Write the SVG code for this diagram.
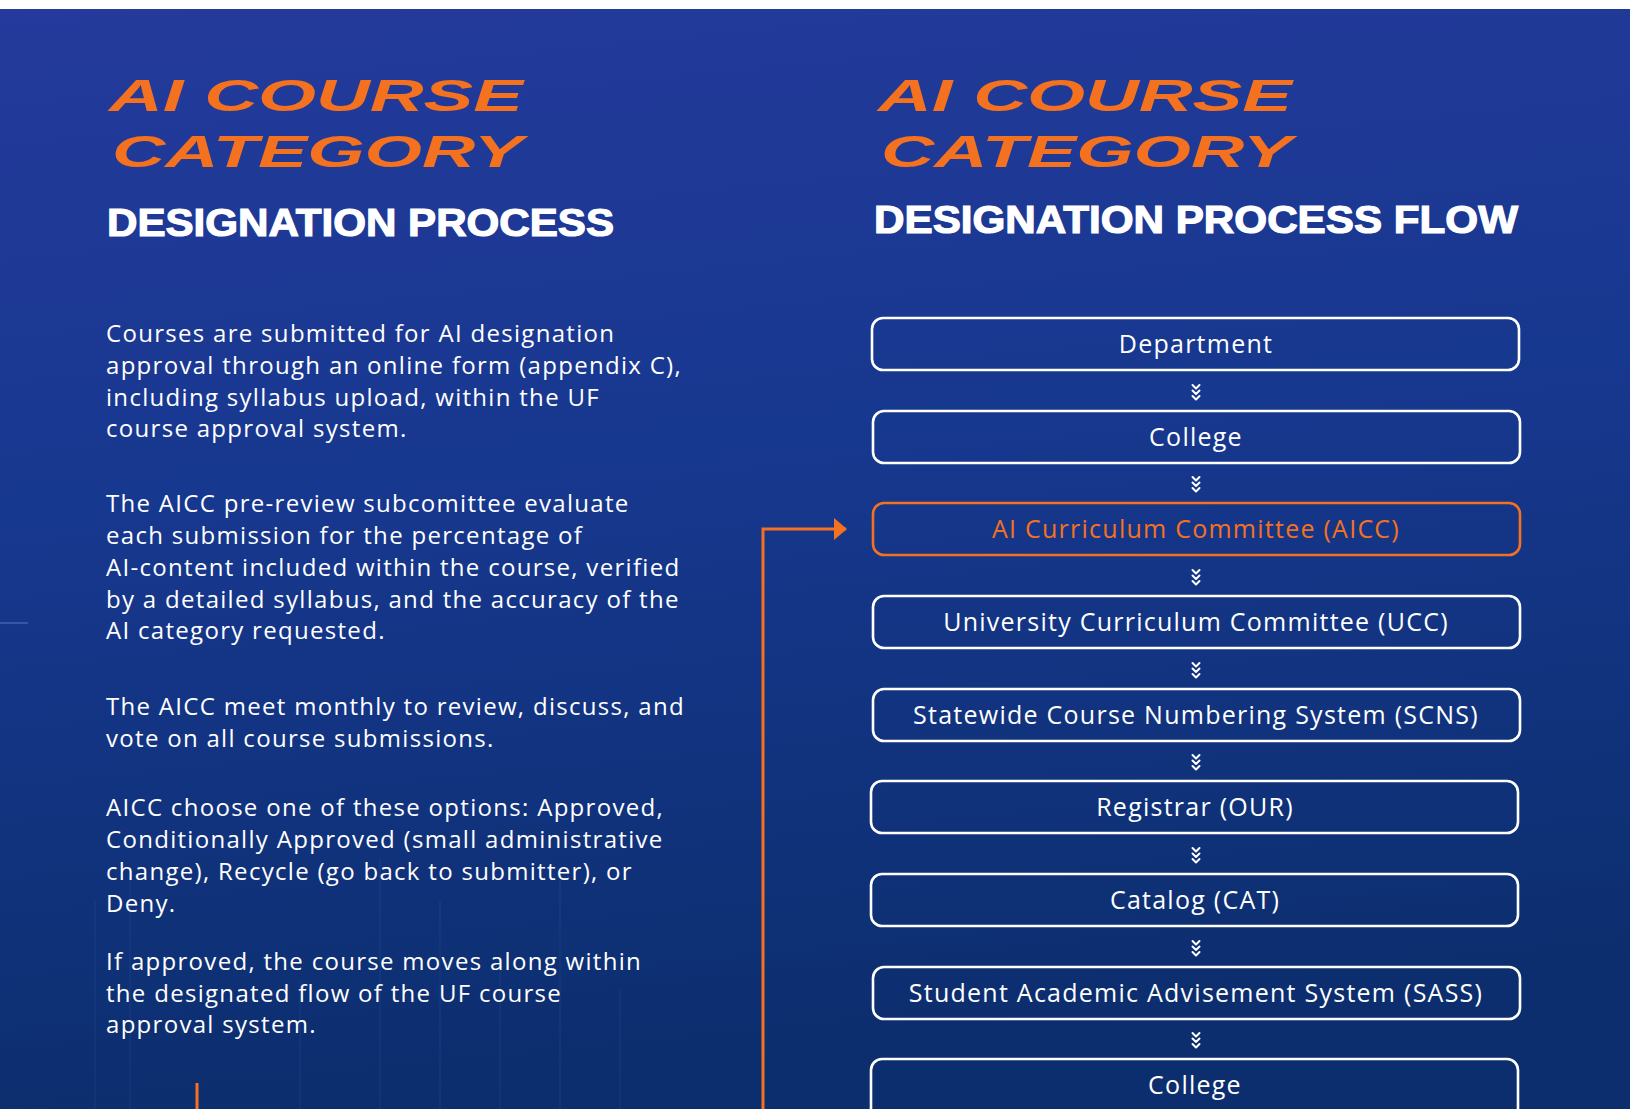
<svg xmlns="http://www.w3.org/2000/svg" width="1632" height="1109" viewBox="0 0 1632 1109">
<defs>
<linearGradient id="bg" x1="0" y1="0" x2="0.15" y2="1">
<stop offset="0" stop-color="#243a9c"/>
<stop offset="0.45" stop-color="#17388f"/>
<stop offset="1" stop-color="#0c2e6e"/>
</linearGradient>
<marker id="ah" viewBox="0 0 13 22" refX="12" refY="11" markerWidth="13" markerHeight="22" markerUnits="userSpaceOnUse" orient="auto">
<path d="M0,0 L13,11 L0,22 Z" fill="#f4711f"/>
</marker>
<g id="chev" fill="none" stroke="#ffffff" stroke-width="2" stroke-linecap="round" stroke-linejoin="round">
<polyline points="-3.5,-7 0,-3.5 3.5,-7"/>
<polyline points="-3.5,-1.5 0,2 3.5,-1.5"/>
<polyline points="-3.5,4 0,7.5 3.5,4"/>
</g>
</defs>
<style>
.ttl{font-family:"Liberation Sans",Arial,sans-serif;font-weight:bold;font-style:italic;font-size:44px;fill:#f4711f}
.sub{font-family:"Liberation Sans",Arial,sans-serif;font-weight:bold;font-size:39px;fill:#ffffff;stroke:#ffffff;stroke-width:1.2}
.body{font-family:"Open Sans","Noto Sans",sans-serif;font-size:24px;letter-spacing:1.3px;fill:#ffffff}
.box{fill:none;stroke:#ffffff;stroke-width:2.6}
.box.hl{stroke:#f4711f}
.lbl{font-family:"Open Sans","Noto Sans",sans-serif;font-size:25px;letter-spacing:1.25px;fill:#ffffff;text-anchor:middle}
.lbl.hl{fill:#f4711f}
.faint{stroke:#5f7fd0;stroke-opacity:0.08;stroke-width:2;fill:none}
</style>
<rect x="0" y="0" width="1632" height="1109" fill="#ffffff"/>
<rect x="0" y="9" width="1630" height="1100" fill="url(#bg)"/>
<line x1="0" y1="623" x2="28" y2="623" stroke="#5c7fd6" stroke-opacity="0.6" stroke-width="1.5"/>
<g id="decor" class="faint">
<line x1="95" y1="900" x2="95" y2="1109"/>
<line x1="130" y1="880" x2="130" y2="1109"/>
<line x1="300" y1="980" x2="300" y2="1109"/>
<line x1="380" y1="860" x2="380" y2="1109"/>
<line x1="440" y1="900" x2="440" y2="1109"/>
<line x1="500" y1="960" x2="500" y2="1109"/>
<line x1="560" y1="880" x2="560" y2="1109"/>
<line x1="620" y1="990" x2="620" y2="1109"/>
</g>

<g id="left-title">
<text class="ttl" x="109" y="111" textLength="414" lengthAdjust="spacingAndGlyphs">AI COURSE</text>
<text class="ttl" x="112" y="167" textLength="411" lengthAdjust="spacingAndGlyphs">CATEGORY</text>
<text class="sub" x="107" y="236" textLength="507" lengthAdjust="spacingAndGlyphs">DESIGNATION PROCESS</text>
</g>

<g id="right-title">
<text class="ttl" x="878" y="111" textLength="414" lengthAdjust="spacingAndGlyphs">AI COURSE</text>
<text class="ttl" x="881" y="167" textLength="411" lengthAdjust="spacingAndGlyphs">CATEGORY</text>
<text class="sub" x="874" y="233" textLength="644" lengthAdjust="spacingAndGlyphs">DESIGNATION PROCESS FLOW</text>
</g>

<g id="body-text" class="body">
<text x="106" y="342">Courses are submitted for AI designation</text>
<text x="106" y="374">approval through an online form (appendix C),</text>
<text x="106" y="406">including syllabus upload, within the UF</text>
<text x="106" y="437">course approval system.</text>
<text x="106" y="512">The AICC pre-review subcomittee evaluate</text>
<text x="106" y="544">each submission for the percentage of</text>
<text x="106" y="576">AI-content included within the course, verified</text>
<text x="106" y="608">by a detailed syllabus, and the accuracy of the</text>
<text x="106" y="639">AI category requested.</text>
<text x="106" y="715">The AICC meet monthly to review, discuss, and</text>
<text x="106" y="747">vote on all course submissions.</text>
<text x="106" y="816">AICC choose one of these options: Approved,</text>
<text x="106" y="848">Conditionally Approved (small administrative</text>
<text x="106" y="880">change), Recycle (go back to submitter), or</text>
<text x="106" y="912">Deny.</text>
<text x="106" y="970">If approved, the course moves along within</text>
<text x="106" y="1002">the designated flow of the UF course</text>
<text x="106" y="1033">approval system.</text>
</g>

<g id="connectors">
<path d="M763,1112 L763,529 L846,529" fill="none" stroke="#f4711f" stroke-width="3" marker-end="url(#ah)"/>
<line x1="197" y1="1083" x2="197" y2="1112" stroke="#f4711f" stroke-width="3"/>
<use href="#chev" x="1196" y="392"/>
<use href="#chev" x="1196" y="484"/>
<use href="#chev" x="1196" y="577"/>
<use href="#chev" x="1196" y="670"/>
<use href="#chev" x="1196" y="762"/>
<use href="#chev" x="1196" y="855"/>
<use href="#chev" x="1196" y="948"/>
<use href="#chev" x="1196" y="1040"/>
</g>

<g id="n-department"><rect class="box" x="872" y="318" width="647" height="52" rx="11"/><text class="lbl" x="1196" y="353">Department</text></g>
<g id="n-college1"><rect class="box" x="873" y="411" width="647" height="52" rx="11"/><text class="lbl" x="1196" y="446">College</text></g>
<g id="n-aicc"><rect class="box hl" x="873" y="503" width="647" height="52" rx="11"/><text class="lbl hl" x="1196" y="538">AI Curriculum Committee (AICC)</text></g>
<g id="n-ucc"><rect class="box" x="873" y="596" width="647" height="52" rx="11"/><text class="lbl" x="1196" y="631">University Curriculum Committee (UCC)</text></g>
<g id="n-scns"><rect class="box" x="873" y="689" width="647" height="52" rx="11"/><text class="lbl" x="1196" y="724">Statewide Course Numbering System (SCNS)</text></g>
<g id="n-registrar"><rect class="box" x="871" y="781" width="647" height="52" rx="11"/><text class="lbl" x="1195" y="816">Registrar (OUR)</text></g>
<g id="n-catalog"><rect class="box" x="871" y="874" width="647" height="52" rx="11"/><text class="lbl" x="1195" y="909">Catalog (CAT)</text></g>
<g id="n-sass"><rect class="box" x="873" y="967" width="647" height="52" rx="11"/><text class="lbl" x="1196" y="1002">Student Academic Advisement System (SASS)</text></g>
<g id="n-college2"><rect class="box" x="871" y="1059" width="647" height="60" rx="11"/><text class="lbl" x="1195" y="1094">College</text></g>
</svg>
